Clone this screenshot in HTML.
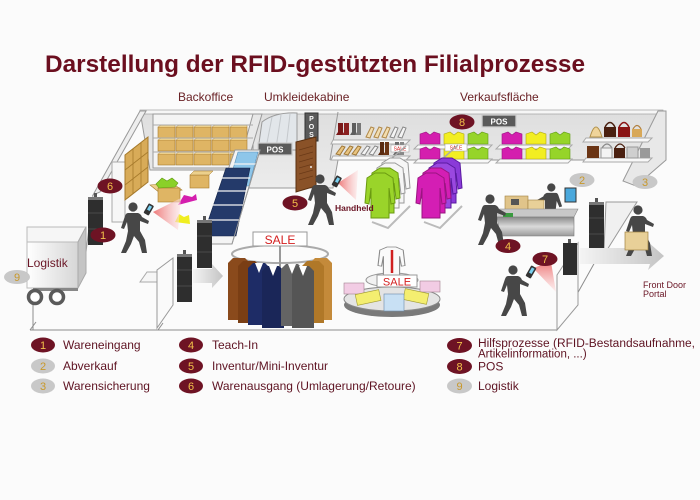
<!DOCTYPE html>
<html><head><meta charset="utf-8"><style>
html,body{margin:0;padding:0;background:#fbfbfb;}
svg{display:block;font-family:"Liberation Sans",Arial,sans-serif;}
</style></head><body>
<svg width="700" height="500" viewBox="0 0 700 500" xmlns="http://www.w3.org/2000/svg">
<defs>
 <linearGradient id="cone" x1="0" y1="0" x2="1" y2="0"><stop offset="0" stop-color="#ec6a6a"/><stop offset="1" stop-color="#fde4e4" stop-opacity="0.6"/></linearGradient>
 <linearGradient id="conev" x1="0" y1="0" x2="0" y2="1"><stop offset="0" stop-color="#ec6a6a"/><stop offset="1" stop-color="#fde4e4" stop-opacity="0.6"/></linearGradient>
 <linearGradient id="arr" x1="0" y1="0" x2="1" y2="0"><stop offset="0" stop-color="#f4f4f4"/><stop offset="1" stop-color="#c4c4c4"/></linearGradient>
 <linearGradient id="ctr" x1="0" y1="0" x2="0" y2="1"><stop offset="0" stop-color="#8a8a8a"/><stop offset="0.5" stop-color="#dadada"/><stop offset="1" stop-color="#9a9a9a"/></linearGradient>
 <linearGradient id="trk" x1="0" y1="0" x2="1" y2="0"><stop offset="0" stop-color="#ffffff"/><stop offset="1" stop-color="#d6d6d6"/></linearGradient>
 <linearGradient id="wallg" x1="0" y1="0" x2="0" y2="1"><stop offset="0" stop-color="#dedede"/><stop offset="1" stop-color="#ececec"/></linearGradient>
 <g id="pers" fill="#474747"><circle cx="13" cy="5" r="4.6"/><path d="M8,11 L18,11 Q21,12 22,15 L29,19 L28,22 L20,19 L20,29 L25,38 L27,51 L22,51 L19,40 L14,34 L11,42 L6,51 L1,51 L6,39 L8,29 L7,20 L4,27 L1,26 L5,14 Q6,11 8,11 Z"/></g>
 <path id="hshirt" d="M10,0 L20,0 L28,5 L30,30 L26,31 L24,15 L24,45 L6,45 L6,15 L4,31 L0,30 L2,5 Z"/>
 <path id="fshirt" d="M0,2 L6,0 L10,3 L14,0 L20,2 L20,12 L0,12 Z"/>
 <path id="jacket" d="M5,0 L17,0 L22,5 L22,62 L0,62 L0,5 Z"/>
 <g id="gate"><rect x="0" y="0" width="15" height="48" fill="#2e2e2e"/><rect x="0" y="0" width="15" height="3" fill="#777"/><rect x="6" y="-4" width="3" height="4" fill="#555"/><line x1="0" y1="16" x2="15" y2="16" stroke="#4a4a4a"/><line x1="0" y1="32" x2="15" y2="32" stroke="#4a4a4a"/></g>
 <g id="tbox"><rect x="0" y="0" width="17" height="11" fill="#dfb564" stroke="#a67a2c" stroke-width="0.6"/><path d="M0,0 L3,-2 L17,-2 L17,0" fill="#ecd08c" stroke="#a67a2c" stroke-width="0.4"/></g>
</defs>

<rect width="700" height="500" fill="#fbfbfb"/>

<!-- Title -->
<text x="45" y="72" font-size="24" font-weight="bold" fill="#6b0f1f" textLength="540" lengthAdjust="spacingAndGlyphs">Darstellung der RFID-gestützten Filialprozesse</text>

<!-- section labels -->
<g font-size="12" fill="#6a2226">
 <text x="178" y="101">Backoffice</text>
 <text x="264" y="101">Umkleidekabine</text>
 <text x="460" y="101">Verkaufsfläche</text>
</g>

<!-- back wall -->
<polygon points="140,111 663,111 663,160 338,160 333,188 245,188 245,170 150,170" fill="url(#wallg)" stroke="#9a9a9a" stroke-width="1"/>
<rect x="140" y="110" width="523" height="4" fill="#f6f6f6" stroke="#a0a0a0" stroke-width="0.7"/>
<line x1="338" y1="112" x2="330" y2="160" stroke="#999"/>
<!-- right wall -->
<polygon points="658,111 666,111 666,160 636,186 623,181" fill="#e8e8e8" stroke="#999"/>
<!-- left wall -->
<polygon points="140,111 146,111 100,192 93,195" fill="#eeeeee" stroke="#999"/>
<line x1="93" y1="195" x2="86" y2="252" stroke="#999"/>
<!-- partition panel + box shelf -->
<rect x="112" y="162" width="13" height="60" fill="#f7f7f7" stroke="#aaa"/>
<polygon points="125,155 148,137 148,182 125,200" fill="#d8ab58" stroke="#a67a2c"/>
<g stroke="#a67a2c" stroke-width="0.8">
 <line x1="125" y1="170" x2="148" y2="152"/><line x1="125" y1="185" x2="148" y2="167"/>
 <line x1="133" y1="149" x2="133" y2="194"/><line x1="141" y1="143" x2="141" y2="188"/>
</g>

<!-- backoffice shelf -->
<rect x="153" y="114" width="100" height="54" fill="#f4f4f4" stroke="#9a9a9a"/>
<polygon points="253,114 262,114 246,168 238,168" fill="#e8e8e8" stroke="#9a9a9a"/>
<g>
 <use href="#tbox" x="158" y="127"/><use href="#tbox" x="176" y="127"/><use href="#tbox" x="194" y="127"/><use href="#tbox" x="212" y="127"/><use href="#tbox" x="230" y="127"/>
 <use href="#tbox" x="158" y="140"/><use href="#tbox" x="176" y="140"/><use href="#tbox" x="194" y="140"/><use href="#tbox" x="212" y="140"/><use href="#tbox" x="230" y="140"/>
 <use href="#tbox" x="158" y="154"/><use href="#tbox" x="176" y="154"/><use href="#tbox" x="194" y="154"/><use href="#tbox" x="212" y="154"/><use href="#tbox" x="230" y="154"/>
</g>
<line x1="153" y1="125" x2="253" y2="125" stroke="#aaa"/><line x1="153" y1="138" x2="253" y2="138" stroke="#aaa"/><line x1="153" y1="152" x2="253" y2="152" stroke="#aaa"/>

<!-- Umkleidekabine glass -->
<path d="M258,150 L262,122 Q275,112 297,113 L297,150 Z" fill="#e2e6ea" stroke="#9a9a9a"/>
<g stroke="#c4c8cc" stroke-width="1"><line x1="266" y1="148" x2="272" y2="117"/><line x1="276" y1="148" x2="281" y2="115"/><line x1="286" y1="148" x2="290" y2="114"/></g>
<rect x="305" y="113" width="13" height="28" fill="#5a5a5a" stroke="#333"/>
<g font-size="7" font-weight="bold" fill="#fff" text-anchor="middle"><text x="311.5" y="121">P</text><text x="311.5" y="129">O</text><text x="311.5" y="137">S</text></g>
<rect x="258" y="143" width="34" height="12" fill="#5a5a5a" stroke="#ccc" stroke-width="1.2"/>
<text x="275" y="152.5" font-size="8" font-weight="bold" fill="#fff" text-anchor="middle">POS</text>
<!-- door -->
<polygon points="296,142 316,137 316,186 296,192" fill="#8a5228" stroke="#5a3010"/>
<g stroke="#6a3a18" stroke-width="0.7"><line x1="299" y1="150" x2="313" y2="146"/><line x1="299" y1="156" x2="313" y2="152"/><line x1="299" y1="162" x2="313" y2="158"/><line x1="299" y1="168" x2="313" y2="164"/><line x1="299" y1="174" x2="313" y2="170"/><line x1="299" y1="180" x2="313" y2="176"/></g>
<circle cx="311" cy="167" r="1" fill="#eee"/>

<!-- shoe shelves -->
<g stroke="#aaa" fill="#f8f8f8"><polygon points="333,140 410,140 406,144 331,144"/><polygon points="333,156 410,156 406,160 331,160"/></g>
<g>
 <path d="M338,123 h5 v12 h-7 l2,-3 z" fill="#7a1818"/><path d="M344,123 h5 v12 h-7 l2,-3 z" fill="#8a2020"/>
 <path d="M352,123 h4 v12 h-6 l2,-3 z" fill="#5e5e5e"/><path d="M357,123 h4 v12 h-6 l2,-3 z" fill="#777"/>
 <g fill="#f2ddb0" stroke="#b08848" stroke-width="1"><path d="M366,137 l5,-10 l3,1 l-4,10 z"/><path d="M374,137 l5,-10 l3,1 l-4,10 z"/><path d="M382,137 l5,-10 l3,1 l-4,10 z"/></g>
 <g fill="#f4f4f4" stroke="#888" stroke-width="1"><path d="M390,137 l5,-10 l3,1 l-4,10 z"/><path d="M398,137 l5,-10 l3,1 l-4,10 z"/></g>
 <g fill="#e8c480" stroke="#a07838" stroke-width="1"><path d="M336,154 l6,-8 l3,1 l-5,8 z"/><path d="M344,154 l6,-8 l3,1 l-5,8 z"/><path d="M352,154 l6,-8 l3,1 l-5,8 z"/></g>
 <g fill="#f4f4f4" stroke="#888" stroke-width="1"><path d="M361,154 l6,-8 l3,1 l-5,8 z"/><path d="M369,154 l6,-8 l3,1 l-5,8 z"/></g>
 <path d="M380,142 h4 v13 h-6 l2,-3 z" fill="#5a2a10"/><path d="M385,142 h4 v13 h-6 l2,-3 z" fill="#6a3414"/>
 <path d="M395,142 h4 v13 h-6 l2,-3 z" fill="#6a6a6a"/><path d="M400,142 h4 v13 h-6 l2,-3 z" fill="#888"/>
 <rect x="391" y="145" width="18" height="7" fill="#fff" stroke="#999" stroke-width="0.5"/><text x="400" y="150.5" font-size="5" fill="#d02020" text-anchor="middle">SALE</text>
</g>

<!-- 8 + POS -->
<ellipse cx="462" cy="122" rx="12.5" ry="7.5" fill="#6e1324"/>
<text x="462" y="126" font-size="11" fill="#f2c24a" text-anchor="middle">8</text>
<rect x="482" y="115" width="34" height="12" fill="#5a5a5a" stroke="#cfcfcf" stroke-width="1.3"/>
<text x="499" y="124.5" font-size="8" font-weight="bold" fill="#fff" text-anchor="middle">POS</text>

<!-- shirt shelves -->
<g stroke="#aaa" fill="#f8f8f8"><polygon points="418,145 492,145 488,149 414,149"/><polygon points="418,159 492,159 488,163 414,163"/><polygon points="500,145 572,145 568,149 496,149"/><polygon points="500,159 572,159 568,163 496,163"/></g>
<g stroke-width="0.6">
 <g fill="#d41eae" stroke="#9a1480"><use href="#fshirt" x="420" y="132"/><use href="#fshirt" x="420" y="147"/><use href="#fshirt" x="502" y="132"/><use href="#fshirt" x="502" y="147"/></g>
 <g fill="#f2ee22" stroke="#b0a810"><use href="#fshirt" x="444" y="132"/><use href="#fshirt" x="444" y="147"/><use href="#fshirt" x="526" y="132"/><use href="#fshirt" x="526" y="147"/></g>
 <g fill="#96d42a" stroke="#5e9a10"><use href="#fshirt" x="468" y="132"/><use href="#fshirt" x="468" y="147"/><use href="#fshirt" x="550" y="132"/><use href="#fshirt" x="550" y="147"/></g>
</g>
<rect x="445" y="144" width="22" height="7" fill="#fff" stroke="#999" stroke-width="0.5"/><text x="456" y="149.7" font-size="5" fill="#d02020" text-anchor="middle">SALE</text>

<!-- handbags -->
<g stroke="#f8f8f8" fill="#f8f8f8"><polygon points="586,138 652,138 648,142 583,142" stroke="#aaa"/><polygon points="586,158 652,158 648,162 583,162" stroke="#aaa"/></g>
<g>
 <path d="M590,137 q6,-20 12,0 z" fill="#efd49a" stroke="#b0904a"/>
 <path d="M605,127 q5,-9 10,0" fill="none" stroke="#4a2010" stroke-width="1.5"/><rect x="604" y="127" width="12" height="10" fill="#4a2010"/>
 <path d="M619,127 q5,-9 10,0" fill="none" stroke="#8a1414" stroke-width="1.5"/><rect x="618" y="127" width="12" height="10" fill="#8a1414"/>
 <path d="M633,129 q4,-7 8,0" fill="none" stroke="#b08040" stroke-width="1.2"/><rect x="632" y="129" width="10" height="8" fill="#d8a858"/>
 <rect x="587" y="146" width="12" height="12" fill="#6a3414"/>
 <path d="M602,148 q5,-8 10,0" fill="none" stroke="#888" stroke-width="1.2"/><rect x="601" y="148" width="11" height="10" fill="#f4f4f4" stroke="#999"/>
 <path d="M615,148 q5,-8 10,0" fill="none" stroke="#4a2010" stroke-width="1.2"/><rect x="614" y="148" width="11" height="10" fill="#4a2010"/>
 <rect x="627" y="147" width="11" height="11" fill="#cfcfcf" stroke="#999"/><rect x="640" y="148" width="10" height="10" fill="#9a9a9a"/>
</g>

<!-- right side panels -->
<polygon points="606,202 637,202 607,250 604,250" fill="#f0f0f0" stroke="#999"/>

<!-- floor lines -->
<g stroke="#8c8c8c" stroke-width="1" fill="none">
 <polyline points="30,330 557,330 600,253"/>
 <line x1="30" y1="330" x2="36" y2="322"/>
 <line x1="158" y1="330" x2="163" y2="323"/>
 <line x1="33" y1="303" x2="33" y2="330"/>
</g>

<!-- blue shelving -->
<polygon points="235,150 260,150 232,244 202,244" fill="#f4f4f4" stroke="#999"/>
<polygon points="238,152 258,152 249,186 228,186" fill="#8ec6ea" stroke="#5a90b8" stroke-width="0.6"/>
<polygon points="226,168 250,168 236,236 203,236" fill="#243a6a" stroke="#142448" stroke-width="0.6"/>
<g stroke="#f4f4f4" stroke-width="1.2"><line x1="207" y1="220" x2="240" y2="220"/><line x1="211" y1="205" x2="243" y2="205"/><line x1="215" y1="191" x2="246" y2="191"/><line x1="220" y1="178" x2="250" y2="178"/><line x1="234" y1="164" x2="256" y2="164"/></g>
<line x1="260" y1="150" x2="232" y2="244" stroke="#999"/>

<!-- floor items backoffice -->
<polygon points="150,185 172,183 182,190 160,193" fill="#ecd08c" stroke="#a67a2c" stroke-width="0.6"/>
<rect x="158" y="188" width="22" height="14" fill="#dfb564" stroke="#a67a2c" stroke-width="0.6"/>
<path d="M156,184 l6,-6 l5,3 l5,-3 l6,5 l-3,4 l-16,1 z" fill="#8ad028" stroke="#5e9a10" stroke-width="0.6"/>
<rect x="190" y="175" width="19" height="13" fill="#dfb564" stroke="#a67a2c" stroke-width="0.6"/>
<path d="M190,175 l4,-4 l19,0 l-4,4 z" fill="#ecd08c" stroke="#a67a2c" stroke-width="0.5"/>
<path d="M178,205 l6,-10 l8,2 l4,-3 l1,6 z" fill="#d41eae"/>
<path d="M175,222 l4,-8 l5,3 l5,-2 l1,9 z" fill="#f0ee20"/>
<polygon points="153,212 181,198 178,230" fill="url(#cone)" opacity="0.9"/>

<!-- gates left -->
<use href="#gate" x="88" y="197"/>
<use href="#gate" x="197" y="220"/>
<!-- white panel near gate 3 -->
<polygon points="147,272 168,272 160,282 140,282" fill="#f6f6f6" stroke="#aaa"/>
<polygon points="157,270 173,258 173,305 157,328" fill="#fafafa" stroke="#9a9a9a"/>
<use href="#gate" x="177" y="254"/>
<!-- arrow left -->
<polygon points="193,269 212,269 212,264 223,276 212,288 212,283 193,283" fill="url(#arr)"/>

<!-- truck -->
<polygon points="27,227 86,227 78,242 27,242" fill="#f6f6f6" stroke="#bbb"/>
<rect x="27" y="242" width="51" height="46" fill="url(#trk)" stroke="#bbb"/>
<polygon points="78,242 86,227 86,273 78,288" fill="#c4c4c4" stroke="#aaa"/>
<rect x="33" y="288" width="45" height="3" fill="#888"/>
<circle cx="35" cy="297" r="6.5" fill="#fff" stroke="#5a5a5a" stroke-width="3.5"/>
<circle cx="57" cy="297" r="6.5" fill="#fff" stroke="#5a5a5a" stroke-width="3.5"/>
<text x="27" y="267" font-size="12" fill="#6a1525">Logistik</text>

<!-- suits rack -->
<ellipse cx="280" cy="254" rx="48" ry="9" fill="none" stroke="#aaa" stroke-width="2"/>
<line x1="280" y1="245" x2="280" y2="325" stroke="#999" stroke-width="2"/>
<g>
 <use href="#jacket" x="228" y="258" fill="#8a4a1c"/>
 <use href="#jacket" x="310" y="258" fill="#c48a3a"/>
 <use href="#jacket" x="238" y="261" fill="#7a3e14"/>
 <use href="#jacket" x="302" y="261" fill="#b07828"/>
 <use href="#jacket" x="248" y="263" fill="#1e2c66"/>
 <use href="#jacket" x="262" y="266" fill="#1a2658"/>
 <use href="#jacket" x="281" y="264" fill="#646464"/>
 <use href="#jacket" x="292" y="266" fill="#555"/>
</g>
<g fill="#fff"><path d="M255,263 l4,10 l4,-10 z"/><path d="M269,266 l4,10 l4,-10 z"/><path d="M288,264 l4,10 l4,-10 z"/><path d="M299,266 l4,10 l4,-10 z"/></g>
<rect x="253" y="232" width="54" height="14" fill="#fff" stroke="#999"/>
<text x="280" y="244" font-size="12" fill="#d42020" text-anchor="middle">SALE</text>

<!-- round table -->
<ellipse cx="392" cy="305" rx="48" ry="12" fill="#7a7a7a"/>
<ellipse cx="392" cy="299" rx="48" ry="12" fill="#e4e4e4" stroke="#888"/>
<ellipse cx="392" cy="280" rx="26" ry="7" fill="#f2f2f2" stroke="#999"/>
<g stroke-width="0.6">
 <rect x="344" y="283" width="20" height="11" fill="#f2cce4" stroke="#a08090"/>
 <rect x="420" y="281" width="20" height="11" fill="#f2cce4" stroke="#a08090"/>
 <rect x="356" y="292" width="24" height="11" fill="#f4ee70" stroke="#a09a30" transform="rotate(-12 368 297)"/>
 <rect x="404" y="291" width="24" height="11" fill="#f4ee70" stroke="#a09a30" transform="rotate(12 416 296)"/>
 <rect x="384" y="294" width="20" height="17" fill="#c8e0f4" stroke="#6a8aa8"/>
</g>
<use href="#hshirt" x="0" y="0" transform="translate(378,247) scale(0.9,0.62)" fill="#fafafa" stroke="#888" stroke-width="1.2"/>
<line x1="392" y1="250" x2="392" y2="273" stroke="#d02020" stroke-width="2.5"/>
<rect x="377" y="275" width="40" height="12" fill="#fff" stroke="#999"/>
<text x="397" y="285.5" font-size="11" fill="#d42020" text-anchor="middle">SALE</text>

<!-- green rack -->
<line x1="378" y1="170" x2="406" y2="146" stroke="#aaa" stroke-width="1.5"/>
<polyline points="372,222 388,228 410,206" fill="none" stroke="#bbb" stroke-width="2"/>
<use href="#hshirt" x="380" y="158" fill="#f6f6f6" stroke="#999"/>
<use href="#hshirt" x="375" y="163" fill="#f6f6f6" stroke="#999"/>
<use href="#hshirt" x="370" y="168" fill="#9ad42a" stroke="#6a9a10"/>
<use href="#hshirt" x="365" y="173" fill="#9ad42a" stroke="#6a9a10"/>
<!-- magenta rack -->
<line x1="430" y1="170" x2="458" y2="145" stroke="#aaa" stroke-width="1.5"/>
<polyline points="424,222 440,228 462,206" fill="none" stroke="#bbb" stroke-width="2"/>
<use href="#hshirt" x="432" y="158" fill="#8a3ad8" stroke="#5a1aa0"/>
<use href="#hshirt" x="427" y="163" fill="#9a48e0" stroke="#5a1aa0"/>
<use href="#hshirt" x="421" y="168" fill="#d41eb4" stroke="#9a1480"/>
<use href="#hshirt" x="416" y="173" fill="#d41eb4" stroke="#9a1480"/>

<!-- people -->
<use href="#pers" x="120" y="202"/>
<rect x="146" y="204" width="6" height="11" rx="1" fill="#333" transform="rotate(30 149 209)"/><rect x="147.5" y="205.5" width="3" height="5" fill="#7ad0f0" transform="rotate(30 149 209)"/>

<use href="#pers" x="307" y="174"/>
<polygon points="338,183 358,170 356,200" fill="url(#cone)" opacity="0.9"/>
<rect x="334" y="176" width="6" height="11" rx="1" fill="#333" transform="rotate(30 337 181)"/><rect x="335.5" y="177.5" width="3" height="5" fill="#7ad0f0" transform="rotate(30 337 181)"/>

<use href="#pers" x="0" y="0" transform="translate(563,183) scale(-0.9,0.9)"/>
<rect x="505" y="196" width="23" height="15" fill="#e0c48a" stroke="#a08040" stroke-width="0.6"/>
<rect x="511" y="199" width="8" height="6" fill="#555"/>
<rect x="528" y="200" width="16" height="12" fill="#e8d098" stroke="#a08040" stroke-width="0.6"/>
<rect x="565" y="188" width="11" height="14" fill="#4aa8dc" stroke="#333"/>
<!-- counter -->
<polygon points="493,209 578,209 574,217 497,217" fill="#c8c8c8" stroke="#888" stroke-width="0.6"/>
<polygon points="497,217 574,217 574,236 500,236" fill="url(#ctr)" stroke="#777" stroke-width="0.6"/>
<rect x="503" y="213" width="10" height="4" fill="#3a9a40"/>
<use href="#pers" x="477" y="194"/>

<use href="#pers" x="500" y="265"/>
<polygon points="533,268 551,262 556,292" fill="url(#conev)" opacity="0.9"/>
<rect x="528" y="266" width="6" height="12" rx="1" fill="#333" transform="rotate(30 531 272)"/><rect x="529.5" y="267.5" width="3" height="6" fill="#7ad0f0" transform="rotate(30 531 272)"/>

<!-- right gates and front wall -->
<use href="#gate" x="589" y="202"/>
<polygon points="557,275 578,243 578,305 557,330" fill="#fafafa" stroke="#999"/>
<rect x="563" y="243" width="14" height="32" fill="#2e2e2e"/><rect x="568" y="239" width="3" height="4" fill="#555"/>
<polygon points="580,248 650,248 648,242 664,256 648,270 650,264 580,264" fill="url(#arr)"/>

<use href="#pers" x="625" y="205"/>
<rect x="625" y="232" width="23" height="18" fill="#e8d098" stroke="#a08040" stroke-width="0.7"/>

<text x="335" y="211" font-size="8.5" font-weight="bold" fill="#6a1525">Handheld</text>
<g font-size="9" fill="#6a1525"><text x="643" y="288">Front Door</text><text x="643" y="297">Portal</text></g>

<!-- number ellipses in figure -->
<g>
 <ellipse cx="110" cy="186" rx="12.5" ry="7.5" fill="#6e1324"/>
 <ellipse cx="103" cy="235" rx="12.5" ry="7.5" fill="#6e1324"/>
 <ellipse cx="295" cy="203" rx="12.5" ry="7.5" fill="#6e1324"/>
 <ellipse cx="508" cy="246" rx="12.5" ry="7" fill="#6e1324"/>
 <ellipse cx="545" cy="259" rx="12.5" ry="7" fill="#6e1324"/>
 <ellipse cx="582" cy="180" rx="12.5" ry="7" fill="#c8c8c8"/>
 <ellipse cx="645" cy="182" rx="12.5" ry="7" fill="#c8c8c8"/>
 <ellipse cx="17" cy="277" rx="13" ry="7" fill="#c8c8c8"/>
</g>
<g font-size="11" text-anchor="middle" fill="#f2c24a">
 <text x="110" y="190">6</text><text x="103" y="239">1</text><text x="295" y="207">5</text><text x="508" y="250">4</text><text x="545" y="263">7</text>
</g>
<g font-size="11" text-anchor="middle" fill="#c8982a">
 <text x="582" y="184">2</text><text x="645" y="186">3</text><text x="17" y="281">9</text>
</g>

<!-- legend -->
<g>
 <ellipse cx="43" cy="345" rx="12" ry="7.5" fill="#6e1324"/>
 <ellipse cx="43" cy="366" rx="12" ry="7.5" fill="#c8c8c8"/>
 <ellipse cx="43" cy="386" rx="12" ry="7.5" fill="#c8c8c8"/>
 <ellipse cx="191" cy="345" rx="12" ry="7.5" fill="#6e1324"/>
 <ellipse cx="191" cy="366" rx="12" ry="7.5" fill="#6e1324"/>
 <ellipse cx="191" cy="386" rx="12" ry="7.5" fill="#6e1324"/>
 <ellipse cx="459.5" cy="345.5" rx="12.5" ry="7.5" fill="#6e1324"/>
 <ellipse cx="459.5" cy="366.5" rx="12.5" ry="7.5" fill="#6e1324"/>
 <ellipse cx="459.5" cy="386" rx="12.5" ry="7.5" fill="#c8c8c8"/>
</g>
<g font-size="11" text-anchor="middle">
 <text x="43" y="349" fill="#f2c24a">1</text><text x="43" y="370" fill="#c8982a">2</text><text x="43" y="390" fill="#c8982a">3</text>
 <text x="191" y="349" fill="#f2c24a">4</text><text x="191" y="370" fill="#f2c24a">5</text><text x="191" y="390" fill="#f2c24a">6</text>
 <text x="459.5" y="349.5" fill="#f2c24a">7</text><text x="459.5" y="370.5" fill="#f2c24a">8</text><text x="459.5" y="390" fill="#c8982a">9</text>
</g>
<g font-size="12" fill="#5e1322">
 <text x="63" y="349">Wareneingang</text>
 <text x="63" y="370">Abverkauf</text>
 <text x="63" y="390">Warensicherung</text>
 <text x="212" y="349">Teach-In</text>
 <text x="212" y="370">Inventur/Mini-Inventur</text>
 <text x="212" y="390">Warenausgang (Umlagerung/Retoure)</text>
 <text x="478" y="347" font-size="11.5" textLength="217" lengthAdjust="spacingAndGlyphs">Hilfsprozesse (RFID-Bestandsaufnahme,</text>
 <text x="478" y="357.5" font-size="11.5">Artikelinformation, ...)</text>
 <text x="478" y="370.5">POS</text>
 <text x="478" y="390">Logistik</text>
</g>
</svg>
</body></html>
